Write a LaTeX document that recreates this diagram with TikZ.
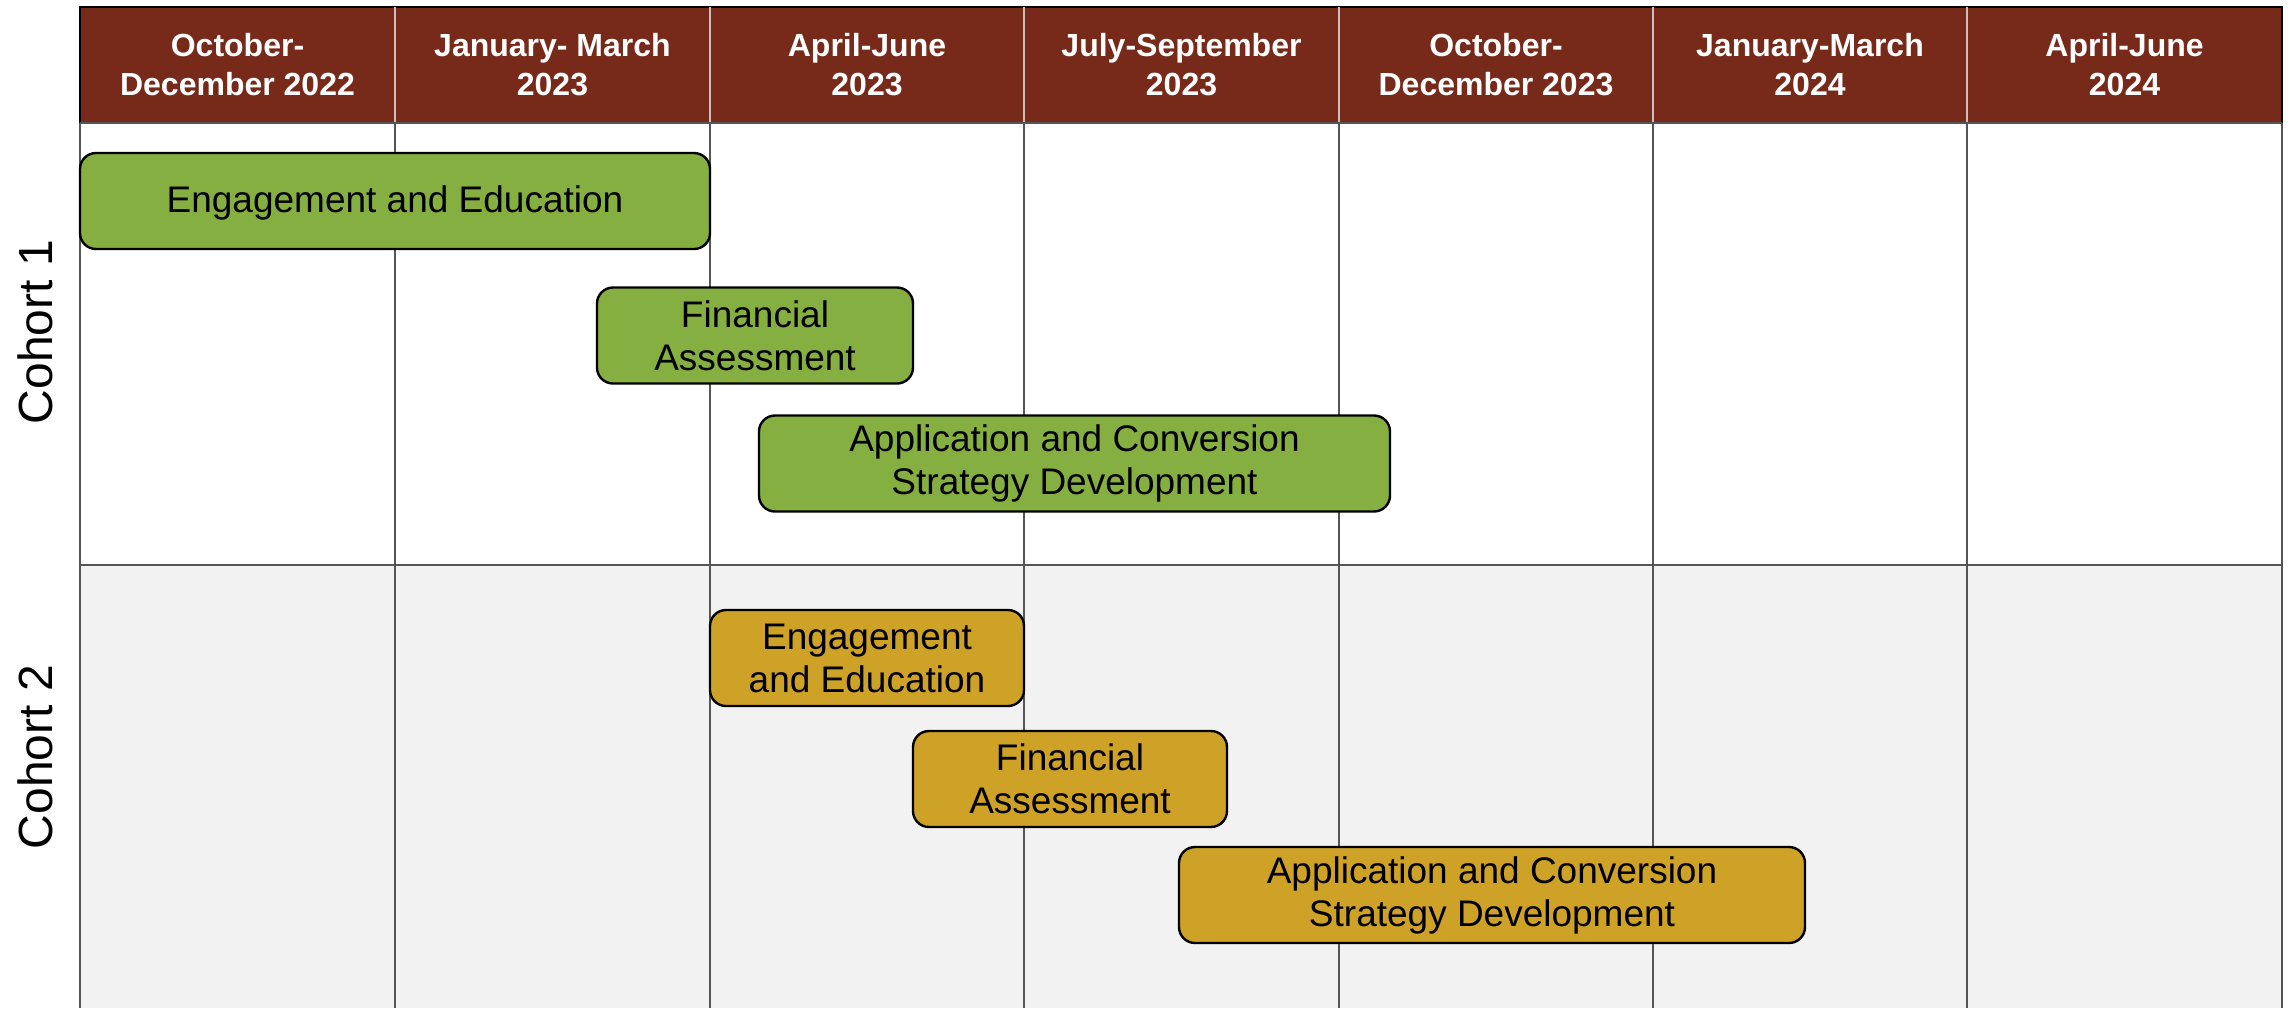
\documentclass[tikz,border=0pt]{standalone}
\usepackage{fontspec}
\setmainfont{Liberation Sans}

\definecolor{hdrbrown}{RGB}{119,42,26}
\definecolor{hdrsep}{RGB}{205,190,185}
\definecolor{gridgrey}{RGB}{85,85,85}
\definecolor{shadegrey}{RGB}{242,242,242}
\definecolor{barolive}{RGB}{134,175,65}
\definecolor{barochre}{RGB}{206,161,39}

\tikzset{every picture/.style={line width=0.75pt}}
\tikzset{
  quarterhead/.style={text=white, font=\fontsize{16}{19.5}\selectfont\bfseries, align=center, inner sep=0.75pt},
  cohortlabel/.style={rotate=90, anchor=base, font=\fontsize{24}{28}\selectfont, inner sep=0pt},
  gridline/.style={draw=gridgrey, line width=0.8pt},
  taskbar/.style={draw=black, line width=1.2pt, rounded corners=8pt, align=center, font=\fontsize{18.5}{21.5}\selectfont, inner sep=0pt, minimum height=48pt},
  olivebar/.style={taskbar, fill=barolive},
  ochrebar/.style={taskbar, fill=barochre}
}

\begin{document}
\begin{tikzpicture}[x=0.5pt,y=0.5pt,yscale=-1,xscale=1]
    \useasboundingbox (0,0) rectangle (2290,1008);
    
    %Shape: Rectangle (cohort 2 shading)
    \fill [shadegrey] (80,565) rectangle (2282,1008) ;
    %Shape: Rectangle (header)
    \draw [draw=black, fill=hdrbrown, line width=1pt] (80,7) rectangle (2282,123) ;
    
    %Straight Lines (header separators)
    \draw [draw=hdrsep, line width=0.8pt] (395,7) -- (395,123) ;
    \draw [draw=hdrsep, line width=0.8pt] (710,7) -- (710,123) ;
    \draw [draw=hdrsep, line width=0.8pt] (1024,7) -- (1024,123) ;
    \draw [draw=hdrsep, line width=0.8pt] (1339,7) -- (1339,123) ;
    \draw [draw=hdrsep, line width=0.8pt] (1653,7) -- (1653,123) ;
    \draw [draw=hdrsep, line width=0.8pt] (1967,7) -- (1967,123) ;
    
    %Straight Lines (grid)
    \draw [gridline, line width=1.2pt] (80,123) -- (80,1008) ;
    \draw [gridline] (395,123) -- (395,1008) ;
    \draw [gridline] (710,123) -- (710,1008) ;
    \draw [gridline] (1024,123) -- (1024,1008) ;
    \draw [gridline] (1339,123) -- (1339,1008) ;
    \draw [gridline] (1653,123) -- (1653,1008) ;
    \draw [gridline] (1967,123) -- (1967,1008) ;
    \draw [gridline, line width=1.2pt] (2282,123) -- (2282,1008) ;
    \draw [gridline, line width=1.2pt] (80,123) -- (2282,123) ;
    \draw [gridline, line width=1.2pt] (80,565) -- (2282,565) ;
    
    % Text Node
    \draw (237.5,65) node [quarterhead] (q1) {October-\\December 2022};
    % Text Node
    \draw (552.5,65) node [quarterhead] (q2) {January- March\\2023};
    % Text Node
    \draw (867,65) node [quarterhead] (q3) {April-June\\2023};
    % Text Node
    \draw (1181.5,65) node [quarterhead] (q4) {July-September\\2023};
    % Text Node
    \draw (1496,65) node [quarterhead] (q5) {October-\\December 2023};
    % Text Node
    \draw (1810,65) node [quarterhead] (q6) {January-March\\2024};
    % Text Node
    \draw (2124.5,65) node [quarterhead] (q7) {April-June\\2024};
    
    % Text Node
    \draw (52,332) node [cohortlabel] (cohortA) {Cohort 1};
    % Text Node
    \draw (52,757) node [cohortlabel] (cohortB) {Cohort 2};
    
    %Rounded Rect (cohort 1)
    \draw (395,201) node [olivebar, minimum width=315pt, text depth=2pt] (engageA) {Engagement and Education};
    \draw (755,335.5) node [olivebar, minimum width=158pt] (financeA) {Financial\\Assessment};
    \draw (1074.5,463.5) node [olivebar, minimum width=315.5pt] (applyA) {Application and Conversion\\Strategy Development};
    
    %Rounded Rect (cohort 2)
    \draw (867,658) node [ochrebar, minimum width=157pt] (engageB) {Engagement\\and Education};
    \draw (1070,779) node [ochrebar, minimum width=157pt] (financeB) {Financial\\Assessment};
    \draw (1492,895) node [ochrebar, minimum width=313pt] (applyB) {Application and Conversion\\Strategy Development};
    
\end{tikzpicture}
\end{document}
